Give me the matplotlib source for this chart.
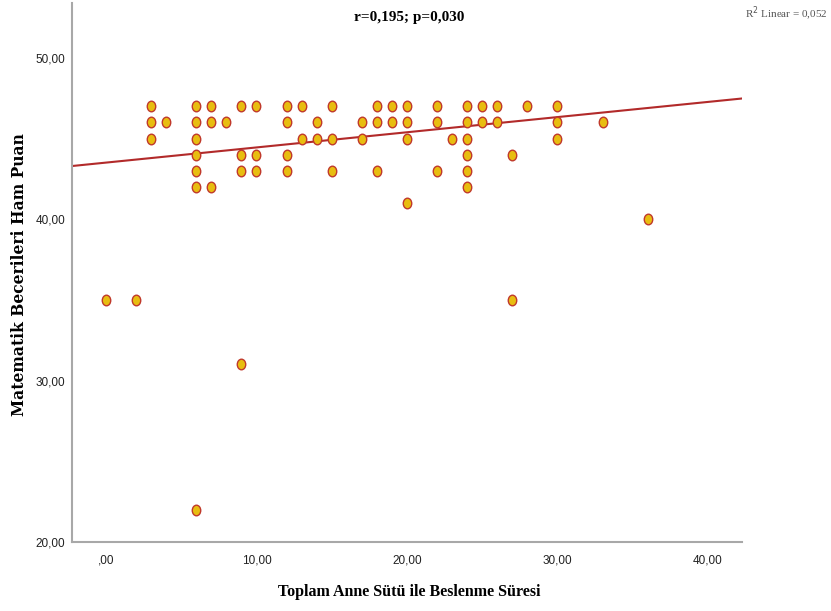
import matplotlib
matplotlib.use("Agg")
import matplotlib.pyplot as plt
from matplotlib.path import Path
from matplotlib.transforms import Affine2D
import numpy as np

# breastfeeding duration (x) and math skill raw score (y), one entry per visible dot
sure = [0, 2,
        3, 3, 3, 4,
        6, 6, 6, 6, 6, 6, 6,
        7, 7, 7, 8,
        9, 9, 9, 9,
        10, 10, 10,
        12, 12, 12, 12,
        13, 13, 14, 14,
        15, 15, 15, 17, 17,
        18, 18, 18, 19, 19,
        20, 20, 20, 20,
        22, 22, 22, 23,
        24, 24, 24, 24, 24, 24,
        25, 25, 26, 26,
        27, 27, 28,
        30, 30, 30, 33, 36]
puan = [35, 35,
        47, 46, 45, 46,
        47, 46, 45, 44, 43, 42, 22,
        47, 46, 42, 46,
        47, 44, 43, 31,
        47, 44, 43,
        47, 46, 44, 43,
        47, 45, 46, 45,
        47, 45, 43, 46, 45,
        47, 46, 43, 47, 46,
        47, 46, 45, 41,
        47, 46, 43, 45,
        47, 46, 45, 44, 43, 42,
        47, 46, 47, 46,
        44, 35, 47,
        47, 46, 45, 46, 40]

# fit line as printed by SPSS
fit_intercept = 43.51
fit_slope = 0.094

x_ticks = [0, 10, 20, 30, 40]
x_labels = [",00", "10,00", "20,00", "30,00", "40,00"]
y_ticks = [20, 30, 40, 50]
y_labels = ["20,00", "30,00", "40,00", "50,00"]

fig = plt.figure(figsize=(8.31, 6.11), dpi=100)
ax = fig.add_axes([0.0866, 0.1129, 0.8063, 0.8822])

oval = Path.unit_circle().transformed(Affine2D().scale(0.8, 1.0))
ax.scatter(sure, puan, marker=oval, s=58, facecolor="#e8bd10",
           edgecolor="#c0392b", linewidth=1.0, zorder=3)

xlim = (-2.26, 42.26)
xs = np.array(xlim)
ax.plot(xs, fit_intercept + fit_slope * xs, color="#b22a2a", lw=1.5, zorder=2)

ax.set_xlim(*xlim)
ax.set_ylim(20, 53.4)
ax.set_xticks(x_ticks)
ax.set_xticklabels(x_labels)
ax.set_yticks(y_ticks)
ax.set_yticklabels(y_labels)
ax.tick_params(length=0, labelsize=8.5, colors="#222222")
ax.tick_params(axis="x", pad=9)
ax.tick_params(axis="y", pad=5)
for lab in ax.get_xticklabels() + ax.get_yticklabels():
    lab.set_family("Liberation Sans")

for side in ["top", "right"]:
    ax.spines[side].set_visible(False)
for side in ["left", "bottom"]:
    ax.spines[side].set_color("#a8a8a8")
    ax.spines[side].set_linewidth(1.5)

serif = "Liberation Serif"
fig.text(0.492, 0.972, "r=0,195; p=0,030", ha="center", va="center",
         family=serif, fontweight="bold", fontsize=11)
fig.text(0.996, 0.977, "R$^2$ Linear = 0,052", ha="right", va="center",
         family=serif, fontsize=8, color="#555555")
fig.text(0.492, 0.031, "Toplam Anne Sütü ile Beslenme Süresi", ha="center",
         va="center", family=serif, fontweight="bold", fontsize=11.5)
fig.text(0.023, 0.551, "Matematik Becerileri Ham Puan", ha="center",
         va="center", rotation=90, family="DejaVu Serif", fontweight="bold",
         fontsize=11.2)

fig.savefig("out.png", dpi=100)
